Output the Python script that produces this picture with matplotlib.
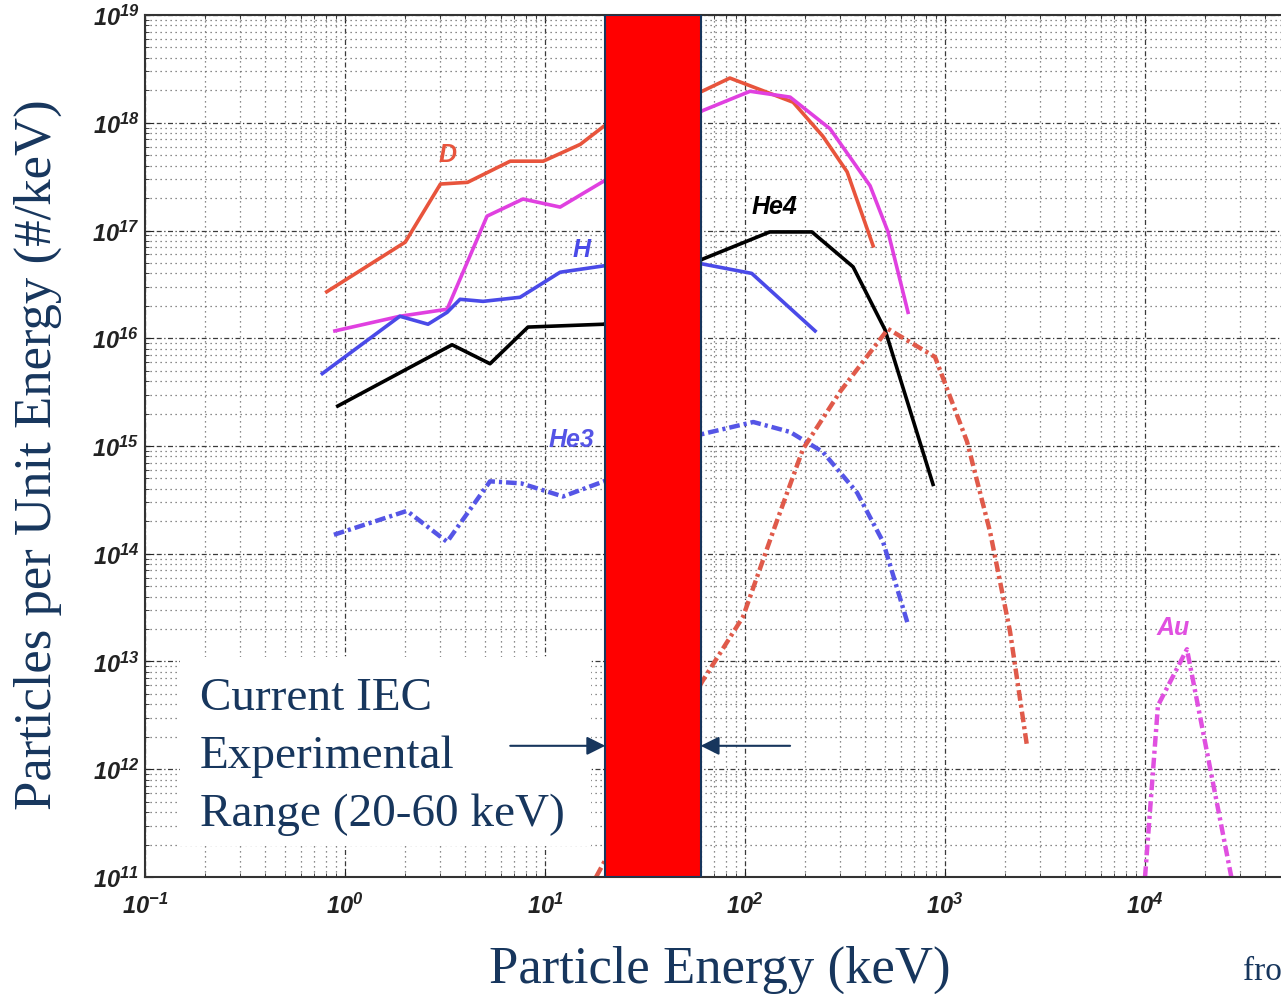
import math
import matplotlib
matplotlib.use("Agg")
import matplotlib.pyplot as plt
from matplotlib.patches import Rectangle
from matplotlib.ticker import LogLocator, FixedLocator, FuncFormatter, NullFormatter

plt.rcParams["mathtext.fontset"] = "custom"
plt.rcParams["mathtext.rm"] = "Liberation Sans:italic:bold"
plt.rcParams["mathtext.it"] = "Liberation Sans:italic:bold"

# spectra: energy (keV) and particles per keV
d_e = [0.81, 2.0, 3.0, 4.1, 6.7, 9.8, 15.0, 19.7, 61, 84, 174, 245, 324, 437]
d_n = [2.7e16, 7.8e16, 2.7e17, 2.8e17, 4.4e17, 4.4e17, 6.3e17, 9.3e17,
       1.96e18, 2.6e18, 1.55e18, 7.5e17, 3.5e17, 7.2e16]

mag_e = [0.89, 1.88, 3.24, 5.13, 7.76, 11.9, 19.7, 61, 106, 168, 266, 422, 519, 653]
mag_n = [1.17e16, 1.6e16, 1.86e16, 1.36e17, 1.96e17, 1.65e17, 2.88e17,
         1.29e18, 1.96e18, 1.73e18, 8.8e17, 2.6e17, 9.7e16, 1.74e16]

h_e = [0.77, 1.88, 2.6, 3.24, 3.76, 4.9, 7.5, 11.9, 19.7, 61, 108, 224]
h_n = [4.7e15, 1.6e16, 1.35e16, 1.74e16, 2.3e16, 2.2e16, 2.4e16, 4.1e16,
       4.7e16, 4.9e16, 4.0e16, 1.17e16]

he4_e = [0.92, 3.43, 5.31, 8.22, 19.7, 61, 133, 216, 347, 501, 871]
he4_n = [2.35e15, 8.7e15, 5.8e15, 1.27e16, 1.35e16, 5.4e16, 9.7e16, 9.7e16,
         4.6e16, 1.2e16, 4.4e14]

he3_e = [0.88, 2.04, 3.24, 5.31, 7.6, 12.3, 19.7, 61, 110, 168, 245, 363, 490, 653]
he3_n = [1.5e14, 2.5e14, 1.29e14, 4.7e14, 4.5e14, 3.4e14, 4.7e14,
         1.29e15, 1.67e15, 1.35e15, 8.8e14, 3.7e14, 1.29e14, 2.2e13]

hi_e = [18.0, 61, 97.7, 138, 195, 299, 519, 891, 1288, 1679, 2113, 2570]
hi_n = [1.0e11, 6.5e12, 2.6e13, 1.6e14, 9.4e14, 3.2e15, 1.22e16, 6.7e15,
        1.1e15, 1.6e14, 1.9e13, 1.64e12]

au_e = [10000, 11600, 16200, 27000]
au_n = [1.0e11, 3.9e12, 1.3e13, 1.0e11]

x_decades = [1e-1, 1e0, 1e1, 1e2, 1e3, 1e4]
y_decades = [1e11, 1e12, 1e13, 1e14, 1e15, 1e16, 1e17, 1e18, 1e19]

iec_lo, iec_hi = 20, 60  # keV
box_lines = ["Current IEC", "Experimental", "Range (20-60 keV)"]

navy = "#17365D"
dashdot = (0, (2.4, 0.9, 0.7, 0.9))

fig = plt.figure(figsize=(12.81, 9.95), dpi=100)
ax = fig.add_axes([0.1132, 0.1176, 0.9368, 0.8663])
ax.set_xscale("log")
ax.set_yscale("log")
ax.set_xlim(1e-1, 1e5)
ax.set_ylim(1e11, 1e19)

ax.set_axisbelow(True)
ax.xaxis.set_major_locator(FixedLocator(x_decades))
ax.yaxis.set_major_locator(FixedLocator(y_decades))
ax.xaxis.set_minor_locator(LogLocator(base=10, subs=range(2, 10), numticks=20))
ax.yaxis.set_minor_locator(LogLocator(base=10, subs=range(2, 10), numticks=20))
ax.grid(which="major", linestyle=(0, (4, 2, 1, 2)), color="#3a3a3a", lw=0.9)
ax.grid(which="minor", linestyle=(0, (1, 3)), color="#666666", lw=0.9)

fmt = FuncFormatter(lambda v, p: r"$\mathrm{10^{%d}}$" % round(math.log10(v)))
ax.xaxis.set_major_formatter(fmt)
ax.yaxis.set_major_formatter(fmt)
ax.xaxis.set_minor_formatter(NullFormatter())
ax.yaxis.set_minor_formatter(NullFormatter())
ax.tick_params(which="both", direction="in", top=True, right=True, colors="#222222")
ax.tick_params(which="major", length=6, labelsize=17)
ax.tick_params(axis="x", which="major", pad=11)
ax.tick_params(axis="y", which="major", pad=4)
ax.tick_params(which="minor", length=3)
for s in ax.spines.values():
    s.set_color("#333333")
    s.set_linewidth(1.5)

ax.plot(d_e, d_n, color="#E8543C", lw=2.6, zorder=2)
ax.plot(mag_e, mag_n, color="#E040E0", lw=2.6, zorder=2)
ax.plot(h_e, h_n, color="#4A4AE8", lw=2.6, zorder=2)
ax.plot(he4_e, he4_n, color="black", lw=2.6, zorder=2)
ax.plot(he3_e, he3_n, color="#5555E6", lw=3.2, ls=dashdot, zorder=2)
ax.plot(hi_e, hi_n, color="#E05A4A", lw=3.2, ls=dashdot, zorder=2)
ax.plot(au_e, au_n, color="#E050E0", lw=3.2, ls=dashdot, zorder=2)

lab = dict(fontsize=18, fontstyle="italic", fontweight="bold", family="Liberation Sans",
           ha="center", va="center", zorder=2)
ax.text(3.27, 5.1e17, "D", color="#E8543C", **lab)
ax.text(15.3, 6.8e16, "H", color="#4A4AE8", **lab)
ax.text(141, 1.7e17, "He4", color="black", **lab)
ax.text(13.6, 1.16e15, "He3", color="#5555E6", **lab)
ax.text(13800, 2.1e13, "Au", color="#E050E0", **lab)

# experimental window
ax.axvspan(iec_lo, iec_hi, facecolor="#FF0000", edgecolor=navy, lw=1.5, zorder=3)

ax.add_patch(Rectangle((0.1405, 0.1487), 0.3208, 0.19, transform=fig.transFigure,
                       facecolor="white", edgecolor="none", zorder=4))
for i, line in enumerate(box_lines):
    ax.text(200 / 1281, 1 - (710 + 58 * i) / 995, line, transform=fig.transFigure,
            ha="left", va="baseline", fontsize=34, color=navy,
            family="Liberation Serif", zorder=5)

y_arrow = 1.65e12
arr = dict(arrowstyle="-|>", color=navy, lw=1.5, mutation_scale=28, shrinkA=0, shrinkB=0)
ax.annotate("", xy=(iec_lo, y_arrow), xytext=(6.7, y_arrow), arrowprops=arr, zorder=6)
ax.annotate("", xy=(iec_hi, y_arrow), xytext=(168, y_arrow), arrowprops=arr, zorder=6)

fig.text(720 / 1281, 1 - 970 / 995, "Particle Energy (keV)", ha="center", va="center",
         fontsize=38, color=navy, family="Liberation Serif")
fig.text(38 / 1281, 1 - 455 / 995, "Particles per Unit Energy (#/keV)", ha="center",
         va="center", rotation=90, fontsize=38, color=navy, family="Liberation Serif")
fig.text(1243 / 1281, 1 - 972 / 995, "fro", ha="left", va="center",
         fontsize=24, color=navy, family="Liberation Serif")

fig.savefig("out.png", dpi=100)
